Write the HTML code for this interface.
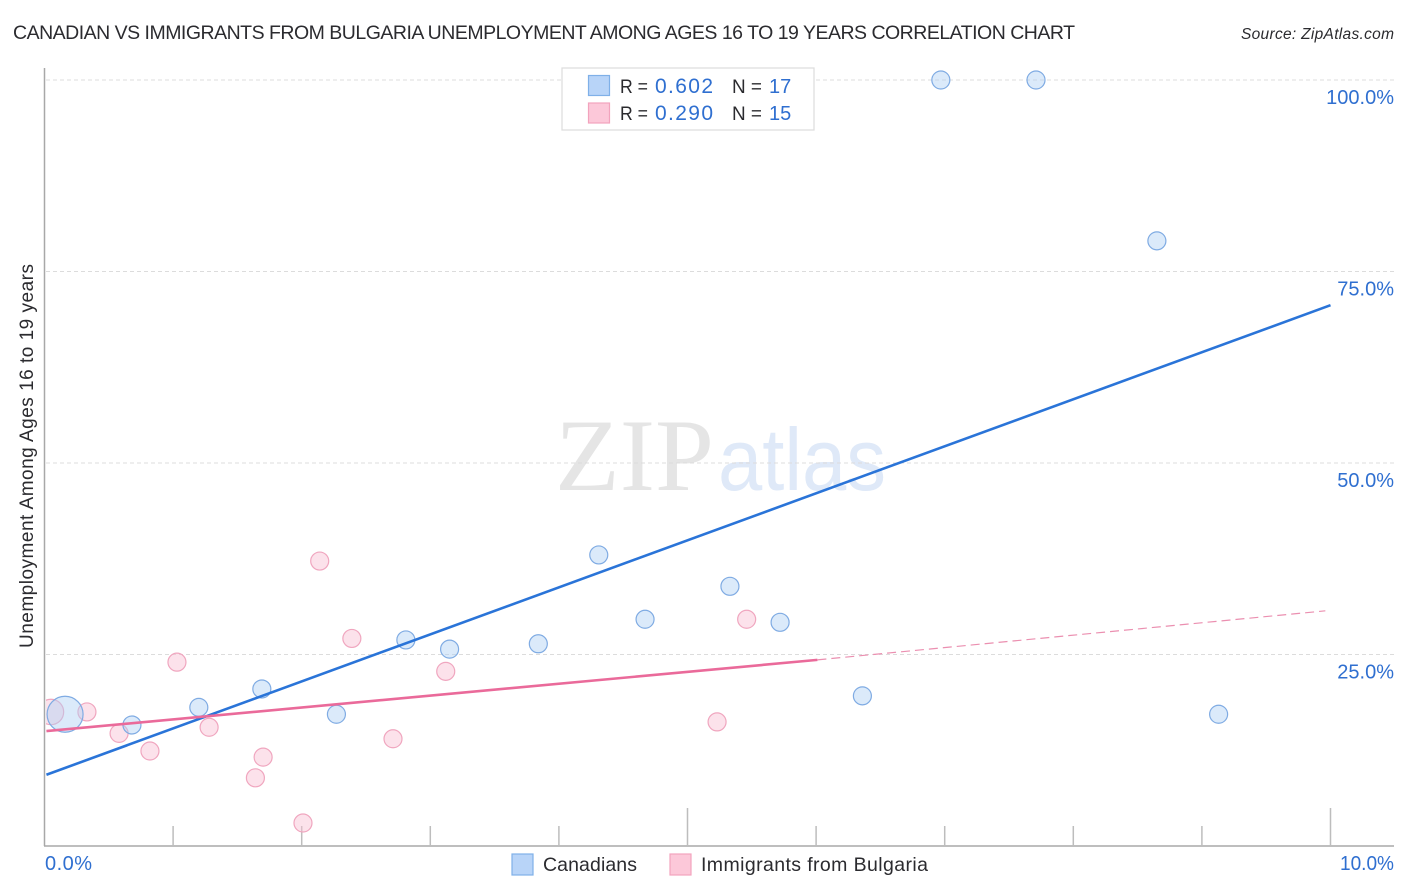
<!DOCTYPE html>
<html lang="en">
<head>
<meta charset="utf-8">
<title>Canadian vs Immigrants from Bulgaria Unemployment Correlation Chart</title>
<style>
html,body{margin:0;padding:0;background:#fff;width:1406px;height:892px;overflow:hidden}
svg{display:block;font-family:"Liberation Sans",sans-serif}
</style>
</head>
<body>
<svg id="chart" xmlns="http://www.w3.org/2000/svg" width="1406" height="892" viewBox="0 0 1406 892">
  <defs><clipPath id="plot-clip"><rect x="46" y="60" width="1350" height="786"/></clipPath></defs>
  <text x="13" y="39" font-size="19.5" fill="#2b2b2f" textLength="1062" lengthAdjust="spacing">CANADIAN VS IMMIGRANTS FROM BULGARIA UNEMPLOYMENT AMONG AGES 16 TO 19 YEARS CORRELATION CHART</text>
  <text x="1241" y="39" font-size="15.5" font-style="italic" fill="#2b2b2f" textLength="153" lengthAdjust="spacing">Source: ZipAtlas.com</text>

  <g>
    <text x="555" y="490" font-family="'Liberation Serif',serif" font-size="103" fill="#e5e5e5" textLength="159" lengthAdjust="spacingAndGlyphs">ZIP</text>
    <text x="718" y="490" font-size="88" fill="#dfe9f8" textLength="168" lengthAdjust="spacingAndGlyphs">atlas</text>
  </g>

  <g id="grid"></g>
  <g id="axes"></g>
  <g id="series" clip-path="url(#plot-clip)"></g>
  <g id="trends"></g>
  <g id="tick-labels"></g>

  <text transform="translate(33,648) rotate(-90)" font-size="19" fill="#2b2b2f" textLength="384" lengthAdjust="spacing">Unemployment Among Ages 16 to 19 years</text>

  <g>
    <rect x="562" y="68" width="252" height="62" fill="#fff" stroke="#dcdcdc" stroke-width="1.2"/>
    <rect x="588.5" y="75.5" width="21" height="20" fill="#b8d4f8" stroke="#7fb0e8" stroke-width="1.2"/>
    <rect x="588.5" y="103" width="21" height="20" fill="#fcc8d9" stroke="#f2a3bd" stroke-width="1.2"/>
    <g font-size="19">
      <text x="620" y="93" fill="#2b2b2f" textLength="28" lengthAdjust="spacingAndGlyphs">R =</text>
      <text x="655" y="93" fill="#2f6fd0" font-size="21" textLength="58" lengthAdjust="spacing">0.602</text>
      <text x="732" y="93" fill="#2b2b2f" textLength="30" lengthAdjust="spacingAndGlyphs">N =</text>
      <text x="769" y="93" fill="#2f6fd0" font-size="20">17</text>
      <text x="620" y="120" fill="#2b2b2f" textLength="28" lengthAdjust="spacingAndGlyphs">R =</text>
      <text x="655" y="120" fill="#2f6fd0" font-size="21" textLength="58" lengthAdjust="spacing">0.290</text>
      <text x="732" y="120" fill="#2b2b2f" textLength="30" lengthAdjust="spacingAndGlyphs">N =</text>
      <text x="769" y="120" fill="#2f6fd0" font-size="20">15</text>
    </g>
  </g>

  <g>
    <rect x="512" y="854" width="21" height="21" fill="#b8d4f8" stroke="#7fb0e8" stroke-width="1.2"/>
    <text x="543" y="871" font-size="19.5" fill="#2b2b2f" textLength="94" lengthAdjust="spacing">Canadians</text>
    <rect x="670" y="854" width="21" height="21" fill="#fcc8d9" stroke="#f2a3bd" stroke-width="1.2"/>
    <text x="701" y="871" font-size="19.5" fill="#2b2b2f" textLength="227" lengthAdjust="spacing">Immigrants from Bulgaria</text>
  </g>
</svg>
<script>
// Chart data (percent units)
const canadiansX = [0.16, 0.68, 1.20, 1.69, 2.27, 2.81, 3.15, 3.84, 4.31, 4.67, 5.33, 5.72, 6.36, 6.97, 7.71, 8.65, 9.13];
const canadiansY = [17.2, 15.8, 18.1, 20.5, 17.2, 26.9, 25.7, 26.4, 38.0, 29.6, 33.9, 29.2, 19.6, 100, 100, 79.0, 17.2];
const canadiansWeight = [4, 1, 1, 1, 1, 1, 1, 1, 1, 1, 1, 1, 1, 1, 1, 1, 1];
const bulgariaX = [0.05, 0.33, 0.58, 0.82, 1.03, 1.28, 1.64, 1.70, 2.01, 2.14, 2.39, 2.71, 3.12, 5.23, 5.46];
const bulgariaY = [17.5, 17.5, 14.7, 12.4, 24.0, 15.5, 8.9, 11.6, 3.0, 37.2, 27.1, 14.0, 22.8, 16.2, 29.6];
const bulgariaWeight = [2, 1, 1, 1, 1, 1, 1, 1, 1, 1, 1, 1, 1, 1, 1];
const canadiansTrendX = [0.015, 10];
const canadiansTrendY = [9.3, 70.6];
const bulgariaTrendX = [0.015, 6.01];
const bulgariaTrendY = [15.0, 24.3];
const bulgariaForecastX = [6.01, 9.96];
const bulgariaForecastY = [24.3, 30.7];
const yTicks = [25, 50, 75, 100];
const yTickLabels = ['25.0%', '50.0%', '75.0%', '100.0%'];
const xTicks = [1, 2, 3, 4, 5, 6, 7, 8, 9, 10];
const xMajorTicks = [5, 10];
const xTickLabels = ['0.0%', '10.0%'];

const NS = 'http://www.w3.org/2000/svg';
const xScale = v => 44.5 + v * 128.6;
const yScale = v => 846 - v * 7.66;
const radius = w => 9 * Math.sqrt(w);

function make(parent, tag, attrs, text) {
  const el = document.createElementNS(NS, tag);
  for (const k in attrs) el.setAttribute(k, attrs[k]);
  if (text !== undefined) el.textContent = text;
  document.getElementById(parent).appendChild(el);
  return el;
}

yTicks.forEach((t, i) => {
  const g = make('grid', 'line', {x1: 46, x2: 1394, y1: yScale(t), y2: yScale(t), stroke: '#dcdcdc', 'stroke-width': 1, 'stroke-dasharray': '4 3'});
  
  
  const lab = make('tick-labels', 'text', {x: 1394, y: yScale(t) + 24, 'text-anchor': 'end', 'font-size': 20, fill: '#2f6fd0'}, yTickLabels[i]);
  
  
});

const yAxis = make('axes', 'line', {x1: 44.5, x2: 44.5, y1: 68, y2: 846, stroke: '#a8a8a8', 'stroke-width': 1.5});


const xAxis = make('axes', 'line', {x1: 44, x2: 1394, y1: 846, y2: 846, stroke: '#a8a8a8', 'stroke-width': 1.5});



xTicks.forEach(t => {
  const top = xMajorTicks.includes(t) ? 808 : 826;
  const tick = make('axes', 'line', {x1: xScale(t), x2: xScale(t), y1: top, y2: 846, stroke: '#bdbdbd', 'stroke-width': 1.5});
  
  
});

const xLabLeft = make('tick-labels', 'text', {x: 45, y: 870, 'font-size': 20, fill: '#2f6fd0', textLength: 47, lengthAdjust: 'spacing'}, xTickLabels[0]);


const xLabRight = make('tick-labels', 'text', {x: 1340, y: 870, 'font-size': 20, fill: '#2f6fd0', textLength: 54, lengthAdjust: 'spacingAndGlyphs'}, xTickLabels[1]);



bulgariaX.forEach((v, i) => {
  const c = make('series', 'circle', {cx: xScale(v), cy: yScale(bulgariaY[i]), r: radius(bulgariaWeight[i]), fill: 'rgba(249,190,210,0.45)', stroke: '#f0a6bf', 'stroke-width': 1.2});
  
  
});
canadiansX.forEach((v, i) => {
  const c = make('series', 'circle', {cx: xScale(v), cy: yScale(canadiansY[i]), r: radius(canadiansWeight[i]), fill: 'rgba(175,208,245,0.45)', stroke: '#7fabe3', 'stroke-width': 1.2});
  
  
});

const tBlue = make('trends', 'line', {x1: xScale(canadiansTrendX[0]), y1: yScale(canadiansTrendY[0]), x2: xScale(canadiansTrendX[1]), y2: yScale(canadiansTrendY[1]), stroke: '#2a74d8', 'stroke-width': 2.6});


const tPink = make('trends', 'line', {x1: xScale(bulgariaTrendX[0]), y1: yScale(bulgariaTrendY[0]), x2: xScale(bulgariaTrendX[1]), y2: yScale(bulgariaTrendY[1]), stroke: '#ea6a9a', 'stroke-width': 2.6});


const tDash = make('trends', 'line', {x1: xScale(bulgariaForecastX[0]), y1: yScale(bulgariaForecastY[0]), x2: xScale(bulgariaForecastX[1]), y2: yScale(bulgariaForecastY[1]), stroke: '#eb8fb0', 'stroke-width': 1.2, 'stroke-dasharray': '9 5'});


</script>
</body>
</html>
